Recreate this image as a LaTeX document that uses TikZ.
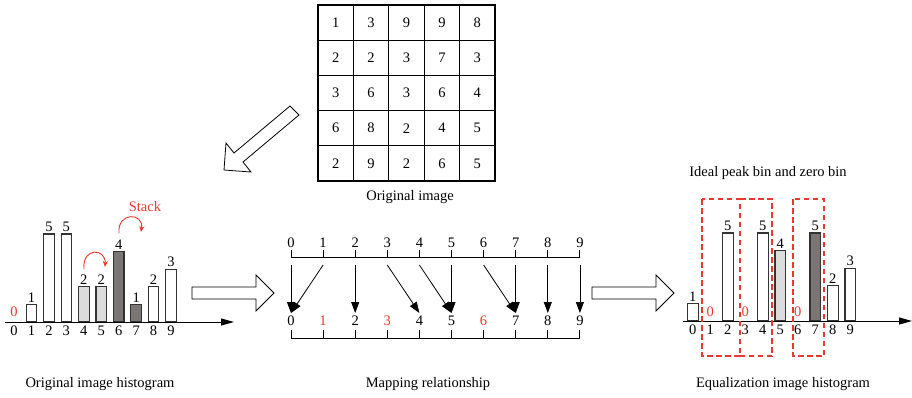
\documentclass[tikz,border=0pt]{standalone}
\usepackage{fontspec}
\setmainfont{Liberation Serif}
\usetikzlibrary{arrows.meta}
\definecolor{hred}{HTML}{E8382F}
\definecolor{lgray}{HTML}{DCDCDC}
\definecolor{dgray}{HTML}{7B7676}
\definecolor{edge}{HTML}{333333}
\begin{document}
\begin{tikzpicture}[x=1pt,y=-1pt,
  font=\fontsize{14.5}{17}\selectfont,
  cell/.style={draw=black, line width=1.2pt, minimum width=35.4pt, minimum height=35.2pt, inner sep=0pt},
  bar/.style={draw=edge, line width=1.1pt, minimum width=10.6pt, inner sep=0pt, outer sep=0pt, anchor=south},
  barlabel/.style={anchor=south, inner sep=2pt},
  axis/.style={line width=1pt, -{Triangle[length=13pt,width=7pt]}},
  mapline/.style={line width=0.9pt},
  maparrow/.style={line width=0.8pt, -{Triangle[length=11pt,width=8pt]}},
  hollow/.style={draw=black, line width=0.8pt, fill=white, line join=miter},
  stackarrow/.style={hred, line width=0.9pt, -{Stealth[length=6pt,width=5pt]}},
  zonebox/.style={hred, line width=1.1pt, dash pattern=on 5.5pt off 3.5pt},
  caption/.style={inner sep=0pt}]
\useasboundingbox (0,0) rectangle (912,397);

% ---- image matrix ----
\foreach \row [count=\i from 0] in {{1,3,9,9,8},{2,2,3,7,3},{3,6,3,6,4},{6,8,2,4,5},{2,9,2,6,5}}{
  \foreach \v [count=\j from 0] in \row {
    \node[cell] (c-\i-\j) at ({318+35.4*(\j+0.5)},{5+35.2*(\i+0.5)}) {\v};
  }
}
\node[caption] (capimg) at (410,197) {Original image};

% ---- hollow arrows ----
\draw[hollow] (290,106) -- (299,115) -- (243,162) -- (251,172) -- (224,170) -- (226,143) -- (234,153) -- cycle;
\draw[hollow] (192,287) -- (256,287) -- (256,275) -- (274,293) -- (256,311) -- (256,299) -- (192,299) -- cycle;
\draw[hollow] (592,287) -- (656,287) -- (656,275) -- (674,293) -- (656,311) -- (656,299) -- (592,299) -- cycle;

% ---- original histogram ----
\coordinate (La) at (5,322);
\coordinate (Lb) at (234,322);
\foreach \h/\f [count=\i from 0] in {0/white,1/white,5/white,5/white,2/lgray,2/lgray,4/dgray,1/dgray,2/white,3/white}{
  \ifnum\h>0
    \node[bar, fill=\f, minimum height={17.6*\h}] (L\i) at ({14+17.45*\i},322) {};
    \node[barlabel] (Lv\i) at (L\i.north) {\h};
  \else
    \node[text=hred] (Lv\i) at ({14+17.45*\i},312) {0};
  \fi
  \node (Lx\i) at ({14+17.45*\i},330.5) {\i};
}
\draw[axis] (La) -- (Lb);
\coordinate (s1a) at (84,269);
\coordinate (s1b) at (105,267);
\draw[stackarrow] (s1a) .. controls (82,247) and (106,248) .. (s1b);
\coordinate (s2a) at (119,233);
\coordinate (s2b) at (141,232);
\draw[stackarrow] (s2a) .. controls (117,212) and (144,212) .. (s2b);
\node[text=hred] (stack) at (145,207) {Stack};
\node[caption] (caphist) at (100,384) {Original image histogram};

% ---- mapping ----
\foreach \i in {0,...,9}{
  \node (T\i) at ({291+32.1*\i},243) {\i};
  \draw[mapline] ({291+32.1*\i},250) -- ({291+32.1*\i},257);
  \draw[mapline] ({291+32.1*\i},330) -- ({291+32.1*\i},338);
  \coordinate (ms\i) at ({291+32.1*\i},265);
  \coordinate (mt\i) at ({291+32.1*\i},313);
}
\foreach \i/\c in {0/black,1/hred,2/black,3/hred,4/black,5/black,6/hred,7/black,8/black,9/black}{
  \node[text=\c] (B\i) at ({291+32.1*\i},321) {\i};
}
\draw[mapline] (291,257) -- (580,257);
\draw[mapline] (291,338) -- (580,338);
\foreach \s/\t in {0/0,1/0,2/2,3/4,4/5,5/5,6/7,7/7,8/8,9/9}{
  \draw[maparrow] (ms\s) -- (mt\t);
}
\node[caption] (capmap) at (428,384) {Mapping relationship};

% ---- equalized histogram ----
\coordinate (Ra) at (683,321);
\coordinate (Rb) at (912,321);
\foreach \h/\f [count=\i from 0] in {1/white,0/white,5/white,0/white,5/white,4/lgray,0/white,5/dgray,2/white,3/white}{
  \ifnum\h>0
    \node[bar, fill=\f, minimum height={17.6*\h}] (R\i) at ({692.8+17.5*\i},321) {};
    \node[barlabel] (Rv\i) at (R\i.north) {\h};
  \else
    \node[text=hred] (Rv\i) at ({692.8+17.5*\i},312) {0};
  \fi
  \node (Rx\i) at ({692.8+17.5*\i},329.5) {\i};
}
\draw[axis] (Ra) -- (Rb);
% dashed zones; the middle one shares its left side with the first
\draw[zonebox] (702,199) rectangle (740,356);
\draw[zonebox] (740,199) -- (772,199) -- (772,356) -- (740,356);
\draw[zonebox] (793,199) rectangle (824,356);
\node[caption] (capideal) at (768,173) {Ideal peak bin and zero bin};
\node[caption] (capeq) at (783,384) {Equalization image histogram};
\end{tikzpicture}
\end{document}
